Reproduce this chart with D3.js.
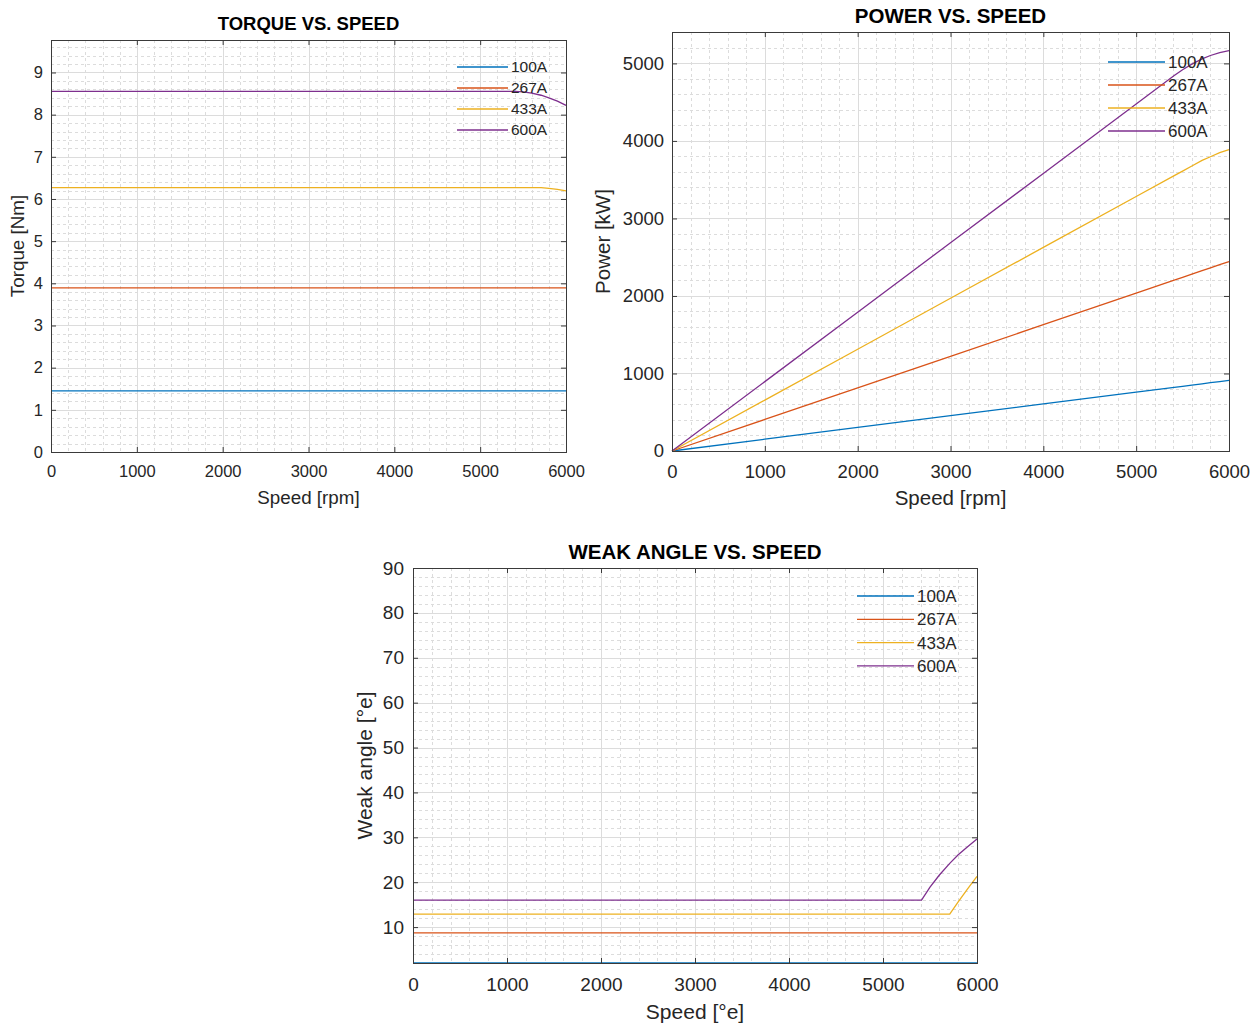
<!DOCTYPE html>
<html>
<head>
<meta charset="utf-8">
<script src="https://cdn.jsdelivr.net/npm/d3@7"></script>
<style>
  html, body { margin: 0; padding: 0; background: #fff; }
  svg { display: block; font-family: "Liberation Sans", Arial, Helvetica, sans-serif; }
</style>
</head>
<body>
<svg id="fig" width="1259" height="1023"></svg>
<script>
// ---- data ---------------------------------------------------------------
const seriesNames = ["100A", "267A", "433A", "600A"];

// motor speed samples (rpm)
const speedRpm = [0, 1000, 2000, 3000, 4000, 5000, 5410, 5500, 5600, 5710, 5800, 5900, 6000];

// shaft torque (Nm)
const torque100A = [1.45, 1.45, 1.45, 1.45, 1.45, 1.45, 1.45, 1.45, 1.45, 1.45, 1.45, 1.45, 1.45];
const torque267A = [3.89, 3.89, 3.89, 3.89, 3.89, 3.89, 3.89, 3.89, 3.89, 3.89, 3.89, 3.89, 3.89];
const torque433A = [6.27, 6.27, 6.27, 6.27, 6.27, 6.27, 6.27, 6.27, 6.27, 6.27, 6.25, 6.23, 6.19];
const torque600A = [8.55, 8.55, 8.55, 8.55, 8.55, 8.55, 8.55, 8.54, 8.51, 8.46, 8.40, 8.32, 8.22];

// output power
const power100A = [0, 152, 304, 456, 607, 759, 821, 835, 850, 867, 881, 896, 911];
const power267A = [0, 407, 815, 1222, 1629, 2037, 2204, 2240, 2281, 2326, 2363, 2403, 2444];
const power433A = [0, 657, 1313, 1970, 2626, 3283, 3552, 3611, 3677, 3749, 3796, 3849, 3889];
const power600A = [0, 895, 1791, 2686, 3581, 4477, 4844, 4919, 4990, 5058, 5102, 5140, 5165];

// field-weakening angle (electrical degrees)
const angle100A = [2.0, 2.0, 2.0, 2.0, 2.0, 2.0, 2.0, 2.0, 2.0, 2.0, 2.0, 2.0, 2.0];
const angle267A = [8.7, 8.7, 8.7, 8.7, 8.7, 8.7, 8.7, 8.7, 8.7, 8.7, 8.7, 8.7, 8.7];
const angle433A = [12.9, 12.9, 12.9, 12.9, 12.9, 12.9, 12.9, 12.9, 12.9, 12.9, 15.6, 18.5, 21.3];
const angle600A = [16.0, 16.0, 16.0, 16.0, 16.0, 16.0, 16.0, 18.9, 21.6, 24.2, 26.1, 27.9, 29.6];

// tick labels
const speedTicks = [0, 1000, 2000, 3000, 4000, 5000, 6000];
const torqueTicks = [0, 1, 2, 3, 4, 5, 6, 7, 8, 9];
const powerTicks = [0, 1000, 2000, 3000, 4000, 5000];
const angleTicks = [10, 20, 30, 40, 50, 60, 70, 80, 90];

// ---- styling ------------------------------------------------------------
const lineColors = ["#0072BD", "#D95319", "#EDB120", "#7E2F8E"];
const axisColor = "#3a3a3a";
const textColor = "#262626";

const svg = d3.select("#fig");

function drawPanel(cfg) {
  const g = svg.append("g");
  const x = d3.scaleLinear().domain(cfg.xDomain).range([cfg.left, cfg.right]);
  const y = d3.scaleLinear().domain(cfg.yDomain).range([cfg.bottom, cfg.top]);

  // minor grid (dotted)
  const xMinor = d3.range(cfg.xDomain[0], cfg.xDomain[1] + 1e-9, cfg.xMinorStep);
  const yMinorStart = Math.ceil(cfg.yDomain[0] / cfg.yMinorStep - 1e-9) * cfg.yMinorStep;
  const yMinor = d3.range(yMinorStart, cfg.yDomain[1] + 1e-9, cfg.yMinorStep);
  g.append("g").selectAll("line").data(xMinor).join("line")
    .attr("x1", d => Math.round(x(d)) + 0.5).attr("x2", d => Math.round(x(d)) + 0.5)
    .attr("y1", cfg.top).attr("y2", cfg.bottom)
    .attr("stroke", "#dcdcdc").attr("stroke-width", 1).attr("stroke-dasharray", "3,3");
  g.append("g").selectAll("line").data(yMinor).join("line")
    .attr("y1", d => Math.round(y(d)) + 0.5).attr("y2", d => Math.round(y(d)) + 0.5)
    .attr("x1", cfg.left).attr("x2", cfg.right)
    .attr("stroke", "#dcdcdc").attr("stroke-width", 1).attr("stroke-dasharray", "3,3");

  // major grid (solid)
  g.append("g").selectAll("line").data(cfg.xTicks).join("line")
    .attr("x1", d => Math.round(x(d)) + 0.5).attr("x2", d => Math.round(x(d)) + 0.5)
    .attr("y1", cfg.top).attr("y2", cfg.bottom)
    .attr("stroke", "#dcdcdc").attr("stroke-width", 1);
  g.append("g").selectAll("line").data(cfg.yTicks).join("line")
    .attr("y1", d => Math.round(y(d)) + 0.5).attr("y2", d => Math.round(y(d)) + 0.5)
    .attr("x1", cfg.left).attr("x2", cfg.right)
    .attr("stroke", "#dcdcdc").attr("stroke-width", 1);

  // data lines
  const line = d3.line().x(d => x(d[0])).y(d => y(d[1]));
  cfg.series.forEach((vals, i) => {
    g.append("path")
      .datum(cfg.xValues.map((v, k) => [v, vals[k]]))
      .attr("d", line)
      .attr("fill", "none")
      .attr("stroke", lineColors[i])
      .attr("stroke-width", 1.3);
  });

  // axes with inward ticks on all four sides
  const tl = 5;
  const axB = d3.axisBottom(x).tickValues(cfg.xTicks).tickSizeInner(-tl).tickSizeOuter(0).tickPadding(cfg.xPad).tickFormat(d3.format("d"));
  const axT = d3.axisTop(x).tickValues(cfg.xTicks).tickSizeInner(-tl).tickSizeOuter(0).tickFormat("");
  const axL = d3.axisLeft(y).tickValues(cfg.yTicks).tickSizeInner(-tl).tickSizeOuter(0).tickPadding(cfg.yPad).tickFormat(d3.format("d"));
  const axR = d3.axisRight(y).tickValues(cfg.yTicks).tickSizeInner(-tl).tickSizeOuter(0).tickFormat("");

  const styleAxis = sel => {
    sel.select(".domain").remove();
    sel.selectAll("line").attr("stroke", axisColor);
    sel.selectAll("text").attr("fill", textColor).attr("font-size", cfg.tickFont)
      .attr("font-family", "Liberation Sans, Arial, sans-serif");
  };
  g.append("g").attr("transform", `translate(0,${cfg.bottom})`).call(axB).call(styleAxis);
  g.append("g").attr("transform", `translate(0,${cfg.top})`).call(axT).call(styleAxis);
  g.append("g").attr("transform", `translate(${cfg.left},0)`).call(axL).call(styleAxis);
  g.append("g").attr("transform", `translate(${cfg.right},0)`).call(axR).call(styleAxis);

  // box
  g.append("rect")
    .attr("x", cfg.left + 0.5).attr("y", cfg.top + 0.5)
    .attr("width", cfg.right - cfg.left).attr("height", cfg.bottom - cfg.top)
    .attr("fill", "none").attr("stroke", axisColor).attr("stroke-width", 1);

  // title and axis labels
  g.append("text").attr("x", (cfg.left + cfg.right) / 2).attr("y", cfg.titleY)
    .attr("text-anchor", "middle").attr("dy", "0.35em")
    .attr("font-weight", "bold").attr("font-size", cfg.titleFont).attr("fill", "#000")
    .text(cfg.title);
  g.append("text").attr("x", (cfg.left + cfg.right) / 2).attr("y", cfg.xLabelY)
    .attr("text-anchor", "middle").attr("dy", "0.35em")
    .attr("font-size", cfg.labelFont).attr("fill", textColor)
    .text(cfg.xLabel);
  g.append("text")
    .attr("transform", `translate(${cfg.yLabelX},${(cfg.top + cfg.bottom) / 2}) rotate(-90)`)
    .attr("text-anchor", "middle").attr("dy", "0.35em")
    .attr("font-size", cfg.labelFont).attr("fill", textColor)
    .text(cfg.yLabel);

  // legend (no frame)
  const lg = g.append("g");
  seriesNames.forEach((name, i) => {
    const ry = cfg.legendY + i * cfg.legendStep;
    lg.append("line").attr("x1", cfg.legendX).attr("x2", cfg.legendX + cfg.legendLen)
      .attr("y1", ry).attr("y2", ry)
      .attr("stroke", lineColors[i]).attr("stroke-width", 1.3);
    lg.append("text").attr("x", cfg.legendX + cfg.legendLen + 3).attr("y", ry)
      .attr("dy", "0.35em").attr("font-size", cfg.legendFont).attr("fill", textColor)
      .text(name);
  });
}

// Torque vs speed
drawPanel({
  left: 51, right: 566, top: 40, bottom: 452,
  xDomain: [0, 6000], yDomain: [0, 9.77],
  xTicks: speedTicks, yTicks: torqueTicks,
  xMinorStep: 200, yMinorStep: 0.2,
  xValues: speedRpm,
  series: [torque100A, torque267A, torque433A, torque600A],
  tickFont: 16.5, labelFont: 18.8, titleFont: 18.5, legendFont: 15.5,
  xPad: 13, yPad: 8,
  title: "TORQUE VS. SPEED", titleY: 24,
  xLabel: "Speed [rpm]", xLabelY: 497,
  yLabel: "Torque [Nm]", yLabelX: 17,
  legendX: 457, legendLen: 51, legendY: 67, legendStep: 21
});

// Power vs speed
drawPanel({
  left: 672, right: 1229, top: 32, bottom: 451,
  xDomain: [0, 6000], yDomain: [0, 5405],
  xTicks: speedTicks, yTicks: powerTicks,
  xMinorStep: 200, yMinorStep: 200,
  xValues: speedRpm,
  series: [power100A, power267A, power433A, power600A],
  tickFont: 18.5, labelFont: 20.5, titleFont: 20.5, legendFont: 17,
  xPad: 14, yPad: 8,
  title: "POWER VS. SPEED", titleY: 16,
  xLabel: "Speed [rpm]", xLabelY: 498,
  yLabel: "Power [kW]", yLabelX: 603,
  legendX: 1108, legendLen: 57, legendY: 62, legendStep: 23
});

// Weak angle vs speed
drawPanel({
  left: 413, right: 977, top: 568, bottom: 963,
  xDomain: [0, 6000], yDomain: [2.0, 90],
  xTicks: speedTicks, yTicks: angleTicks,
  xMinorStep: 200, yMinorStep: 2,
  xValues: speedRpm,
  series: [angle100A, angle267A, angle433A, angle600A],
  tickFont: 19, labelFont: 21, titleFont: 20.5, legendFont: 17,
  xPad: 15, yPad: 9,
  title: "WEAK ANGLE VS. SPEED", titleY: 552,
  xLabel: "Speed [°e]", xLabelY: 1012,
  yLabel: "Weak angle [°e]", yLabelX: 365,
  legendX: 857, legendLen: 57, legendY: 596, legendStep: 23.3
});
</script>
</body>
</html>
